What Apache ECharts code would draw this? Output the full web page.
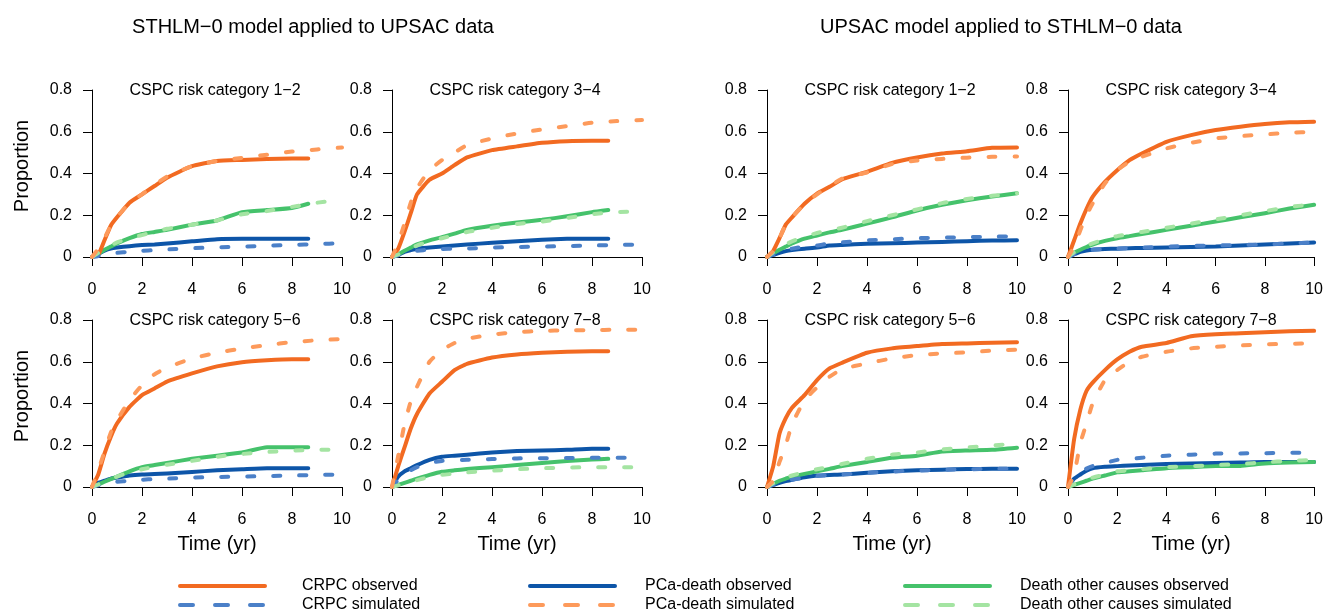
<!DOCTYPE html>
<html>
<head>
<meta charset="utf-8">
<title>CSPC risk category model validation</title>
<script src="https://cdn.jsdelivr.net/npm/echarts/dist/echarts.min.js"></script>
<style>
  html, body { margin: 0; padding: 0; background: #fff; }
  #main { width: 1326px; height: 612px; }
</style>
</head>
<body>
<div id="main"></div>
<script>
// time grids (years)
const T = [0, 0.25, 0.5, 0.75, 1, 1.5, 2, 2.5, 3, 4, 5, 6, 7, 8, 9, 10];
const T_OBS = [0, 0.25, 0.5, 0.75, 1, 1.5, 2, 2.5, 3, 4, 5, 6, 7, 8, 8.65]; // UPSAC follow-up is shorter

// STHLM-0 model applied to UPSAC data, category 1-2
const L12_crpcObs = [0, 0.01, 0.08, 0.15, 0.19, 0.26, 0.30, 0.34, 0.38, 0.435, 0.46, 0.465, 0.47, 0.472, 0.472];
const L12_crpcSim = [0, 0.04, 0.09, 0.15, 0.19, 0.26, 0.30, 0.345, 0.385, 0.435, 0.46, 0.475, 0.49, 0.505, 0.515, 0.525];
const L12_pcaObs = [0, 0.015, 0.03, 0.04, 0.045, 0.052, 0.057, 0.06, 0.065, 0.075, 0.085, 0.087, 0.087, 0.088, 0.088];
const L12_pcaSim = [0, 0.005, 0.012, 0.017, 0.02, 0.025, 0.03, 0.033, 0.036, 0.042, 0.046, 0.05, 0.054, 0.058, 0.062, 0.066];
const L12_othObs = [0, 0.015, 0.035, 0.05, 0.065, 0.09, 0.11, 0.12, 0.13, 0.155, 0.175, 0.215, 0.225, 0.235, 0.255];
const L12_othSim = [0, 0.02, 0.04, 0.055, 0.07, 0.09, 0.105, 0.12, 0.135, 0.155, 0.175, 0.205, 0.22, 0.24, 0.26, 0.275];

// category 3-4
const L34_crpcObs = [0, 0.04, 0.12, 0.21, 0.30, 0.37, 0.40, 0.44, 0.477, 0.512, 0.53, 0.547, 0.555, 0.557, 0.557];
const L34_crpcSim = [0, 0.07, 0.16, 0.26, 0.33, 0.416, 0.464, 0.50, 0.536, 0.568, 0.592, 0.611, 0.627, 0.643, 0.651, 0.656];
const L34_pcaObs = [0, 0.01, 0.025, 0.033, 0.04, 0.045, 0.05, 0.055, 0.06, 0.068, 0.075, 0.083, 0.087, 0.088, 0.088];
const L34_pcaSim = [0, 0.008, 0.018, 0.025, 0.03, 0.035, 0.038, 0.04, 0.041, 0.045, 0.048, 0.05, 0.052, 0.055, 0.058, 0.06];
const L34_othObs = [0, 0.012, 0.03, 0.045, 0.06, 0.08, 0.095, 0.112, 0.13, 0.15, 0.165, 0.178, 0.195, 0.215, 0.225];
const L34_othSim = [0, 0.012, 0.028, 0.042, 0.055, 0.075, 0.09, 0.105, 0.12, 0.14, 0.158, 0.17, 0.187, 0.205, 0.215, 0.218];

// category 5-6
const L56_crpcObs = [0, 0.06, 0.16, 0.24, 0.304, 0.384, 0.44, 0.472, 0.505, 0.544, 0.578, 0.598, 0.607, 0.612, 0.612];
const L56_crpcSim = [0, 0.08, 0.17, 0.26, 0.32, 0.416, 0.488, 0.54, 0.572, 0.616, 0.643, 0.664, 0.68, 0.694, 0.703, 0.709];
const L56_pcaObs = [0, 0.02, 0.03, 0.04, 0.045, 0.055, 0.06, 0.062, 0.065, 0.072, 0.08, 0.085, 0.09, 0.09, 0.09];
const L56_pcaSim = [0, 0.008, 0.015, 0.02, 0.025, 0.03, 0.035, 0.038, 0.04, 0.045, 0.048, 0.05, 0.052, 0.055, 0.058, 0.06];
const L56_othObs = [0, 0.012, 0.025, 0.038, 0.05, 0.075, 0.095, 0.105, 0.115, 0.135, 0.15, 0.165, 0.19, 0.19, 0.19];
const L56_othSim = [0, 0.012, 0.025, 0.038, 0.05, 0.07, 0.085, 0.097, 0.107, 0.125, 0.145, 0.158, 0.168, 0.174, 0.178, 0.18];

// category 7-8
const L78_crpcObs = [0, 0.1, 0.19, 0.28, 0.35, 0.448, 0.504, 0.56, 0.59, 0.62, 0.635, 0.643, 0.648, 0.65, 0.65];
const L78_crpcSim = [0, 0.15, 0.3, 0.41, 0.48, 0.6, 0.656, 0.69, 0.71, 0.73, 0.742, 0.748, 0.75, 0.752, 0.753, 0.753];
const L78_pcaObs = [0, 0.05, 0.075, 0.09, 0.105, 0.13, 0.145, 0.15, 0.155, 0.165, 0.172, 0.175, 0.178, 0.183, 0.183];
const L78_pcaSim = [0, 0.035, 0.06, 0.08, 0.095, 0.115, 0.125, 0.128, 0.13, 0.134, 0.137, 0.138, 0.139, 0.14, 0.14, 0.141];
const L78_othObs = [0, 0.01, 0.02, 0.03, 0.04, 0.058, 0.073, 0.08, 0.086, 0.095, 0.105, 0.115, 0.125, 0.132, 0.135];
const L78_othSim = [0, 0.008, 0.016, 0.025, 0.033, 0.048, 0.058, 0.064, 0.07, 0.078, 0.085, 0.09, 0.093, 0.095, 0.095, 0.095];

// UPSAC model applied to STHLM-0 data, category 1-2
const R12_crpcObs = [0, 0.03, 0.09, 0.155, 0.19, 0.255, 0.304, 0.336, 0.372, 0.408, 0.451, 0.477, 0.496, 0.507, 0.523, 0.525];
const R12_crpcSim = [0, 0.03, 0.09, 0.155, 0.19, 0.255, 0.30, 0.34, 0.375, 0.405, 0.445, 0.462, 0.47, 0.476, 0.48, 0.482];
const R12_pcaObs = [0, 0.01, 0.02, 0.028, 0.033, 0.04, 0.045, 0.055, 0.058, 0.063, 0.066, 0.069, 0.072, 0.076, 0.079, 0.08];
const R12_pcaSim = [0, 0.012, 0.025, 0.035, 0.04, 0.05, 0.055, 0.065, 0.07, 0.08, 0.085, 0.09, 0.093, 0.095, 0.097, 0.1];
const R12_othObs = [0, 0.018, 0.035, 0.05, 0.065, 0.088, 0.103, 0.118, 0.13, 0.16, 0.19, 0.223, 0.25, 0.272, 0.29, 0.305];
const R12_othSim = [0, 0.022, 0.042, 0.06, 0.075, 0.097, 0.115, 0.128, 0.14, 0.172, 0.2, 0.228, 0.258, 0.278, 0.293, 0.305];

// category 3-4
const R34_crpcObs = [0, 0.08, 0.16, 0.23, 0.288, 0.36, 0.416, 0.464, 0.496, 0.552, 0.584, 0.608, 0.624, 0.637, 0.645, 0.648];
const R34_crpcSim = [0, 0.05, 0.128, 0.2, 0.256, 0.352, 0.416, 0.456, 0.48, 0.52, 0.547, 0.568, 0.579, 0.587, 0.595, 0.6];
const R34_pcaObs = [0, 0.013, 0.025, 0.031, 0.035, 0.038, 0.04, 0.042, 0.043, 0.045, 0.048, 0.05, 0.055, 0.06, 0.065, 0.07];
const R34_pcaSim = [0, 0.013, 0.025, 0.031, 0.035, 0.038, 0.04, 0.043, 0.045, 0.05, 0.053, 0.055, 0.058, 0.06, 0.065, 0.07];
const R34_othObs = [0, 0.02, 0.035, 0.048, 0.06, 0.077, 0.09, 0.1, 0.11, 0.13, 0.15, 0.17, 0.19, 0.21, 0.232, 0.25];
const R34_othSim = [0, 0.022, 0.04, 0.054, 0.065, 0.085, 0.1, 0.11, 0.12, 0.14, 0.16, 0.18, 0.2, 0.22, 0.24, 0.252];

// category 5-6
const R56_crpcObs = [0, 0.1, 0.256, 0.33, 0.38, 0.44, 0.512, 0.568, 0.595, 0.643, 0.664, 0.675, 0.685, 0.688, 0.691, 0.694];
const R56_crpcSim = [0, 0.03, 0.12, 0.2, 0.3, 0.416, 0.477, 0.528, 0.565, 0.592, 0.616, 0.632, 0.64, 0.645, 0.653, 0.658];
const R56_pcaObs = [0, 0.01, 0.02, 0.028, 0.035, 0.047, 0.055, 0.058, 0.06, 0.068, 0.075, 0.08, 0.083, 0.086, 0.087, 0.088];
const R56_pcaSim = [0, 0.01, 0.02, 0.028, 0.035, 0.045, 0.052, 0.057, 0.06, 0.068, 0.074, 0.079, 0.082, 0.085, 0.087, 0.088];
const R56_othObs = [0, 0.015, 0.03, 0.04, 0.05, 0.063, 0.075, 0.087, 0.1, 0.12, 0.14, 0.15, 0.17, 0.175, 0.178, 0.188];
const R56_othSim = [0, 0.018, 0.035, 0.046, 0.055, 0.072, 0.085, 0.097, 0.11, 0.135, 0.155, 0.165, 0.18, 0.19, 0.198, 0.21];

// category 7-8
const R78_crpcObs = [0, 0.23, 0.37, 0.46, 0.5, 0.56, 0.611, 0.648, 0.672, 0.69, 0.722, 0.732, 0.736, 0.741, 0.746, 0.748];
const R78_crpcSim = [0, 0.06, 0.21, 0.304, 0.4, 0.512, 0.56, 0.6, 0.624, 0.648, 0.664, 0.672, 0.678, 0.683, 0.686, 0.688];
const R78_pcaObs = [0, 0.04, 0.06, 0.078, 0.09, 0.097, 0.1, 0.103, 0.105, 0.11, 0.113, 0.115, 0.117, 0.12, 0.12, 0.12];
const R78_pcaSim = [0, 0.045, 0.07, 0.088, 0.1, 0.115, 0.13, 0.135, 0.14, 0.15, 0.155, 0.16, 0.161, 0.162, 0.164, 0.165];
const R78_othObs = [0, 0.01, 0.02, 0.03, 0.04, 0.055, 0.07, 0.076, 0.08, 0.09, 0.095, 0.1, 0.101, 0.112, 0.117, 0.12];
const R78_othSim = [0, 0.012, 0.025, 0.035, 0.045, 0.06, 0.075, 0.08, 0.085, 0.095, 0.1, 0.105, 0.11, 0.118, 0.125, 0.13];

const FIG_TITLES = ["STHLM\u22120 model applied to UPSAC data", "UPSAC model applied to STHLM\u22120 data"];
const CATEGORIES = ["1\u22122", "3\u22124", "5\u22126", "7\u22128"];
const LEGEND_LABELS = [
  "CRPC observed", "PCa-death observed", "Death other causes observed",
  "CRPC simulated", "PCa-death simulated", "Death other causes simulated"
];

const FONT = '"Liberation Sans", Arial, Helvetica, sans-serif';
const C_CRPC_OBS = "#f26a21";
const C_CRPC_SIM = "#fd9a5b";
const C_PCA_OBS = "#0d55a8";
const C_PCA_SIM = "#4b80c8";
const C_OTH_OBS = "#45c26b";
const C_OTH_SIM = "#a4e4a2";

// panel layout: col left edges, row tops
const COL_LEFT = [92, 392, 767, 1068];
const ROW_TOP = [90, 320];
const PW = 250, PH = 167;

// each panel: [col, row, category index, obs time grid, series arrays]
const panels = [
  [0, 0, 0, T_OBS, L12_crpcObs, L12_crpcSim, L12_pcaObs, L12_pcaSim, L12_othObs, L12_othSim],
  [1, 0, 1, T_OBS, L34_crpcObs, L34_crpcSim, L34_pcaObs, L34_pcaSim, L34_othObs, L34_othSim],
  [2, 0, 0, T, R12_crpcObs, R12_crpcSim, R12_pcaObs, R12_pcaSim, R12_othObs, R12_othSim],
  [3, 0, 1, T, R34_crpcObs, R34_crpcSim, R34_pcaObs, R34_pcaSim, R34_othObs, R34_othSim],
  [0, 1, 2, T_OBS, L56_crpcObs, L56_crpcSim, L56_pcaObs, L56_pcaSim, L56_othObs, L56_othSim],
  [1, 1, 3, T_OBS, L78_crpcObs, L78_crpcSim, L78_pcaObs, L78_pcaSim, L78_othObs, L78_othSim],
  [2, 1, 2, T, R56_crpcObs, R56_crpcSim, R56_pcaObs, R56_pcaSim, R56_othObs, R56_othSim],
  [3, 1, 3, T, R78_crpcObs, R78_crpcSim, R78_pcaObs, R78_pcaSim, R78_othObs, R78_othSim]
];

function pairs(ts, vals) {
  return vals.map((v, k) => [ts[k], v]);
}

function lineSeries(idx, data, color, dashed) {
  return {
    type: "line",
    xAxisIndex: idx,
    yAxisIndex: idx,
    data: data,
    symbol: "none",
    silent: true,
    smooth: 0.15,
    lineStyle: {
      color: color,
      width: 4,
      type: dashed ? [7, 19] : "solid",
      cap: "round",
      join: "round"
    },
    z: dashed ? 3 : 2
  };
}

const grids = [], xAxes = [], yAxes = [], series = [], graphics = [];

panels.forEach((p, i) => {
  const col = p[0], row = p[1], cat = p[2], tObs = p[3];
  const left = COL_LEFT[col], top = ROW_TOP[row];
  grids.push({ left: left, top: top, width: PW, height: PH });
  xAxes.push({
    gridIndex: i, type: "value", min: 0, max: 10, interval: 2,
    name: row === 1 ? "Time (yr)" : "",
    nameLocation: "middle", nameGap: 47,
    nameTextStyle: { fontFamily: FONT, fontSize: 20, color: "#000" },
    axisLine: { show: true, onZero: false, lineStyle: { color: "#000", width: 1 } },
    axisTick: { show: true, length: 9, lineStyle: { color: "#000" } },
    axisLabel: { fontFamily: FONT, fontSize: 16, color: "#000", margin: 25 },
    splitLine: { show: false }
  });
  yAxes.push({
    gridIndex: i, type: "value", min: 0, max: 0.8, interval: 0.2,
    axisLine: { show: true, lineStyle: { color: "#000", width: 1 } },
    axisTick: { show: true, length: 9, lineStyle: { color: "#000" } },
    axisLabel: { fontFamily: FONT, fontSize: 16, color: "#000", margin: 20 },
    splitLine: { show: false }
  });
  // draw order: PCa-death, other causes, then CRPC on top
  series.push(lineSeries(i, pairs(tObs, p[6]), C_PCA_OBS, false));
  series.push(lineSeries(i, pairs(T, p[7]), C_PCA_SIM, true));
  series.push(lineSeries(i, pairs(tObs, p[8]), C_OTH_OBS, false));
  series.push(lineSeries(i, pairs(T, p[9]), C_OTH_SIM, true));
  series.push(lineSeries(i, pairs(tObs, p[4]), C_CRPC_OBS, false));
  series.push(lineSeries(i, pairs(T, p[5]), C_CRPC_SIM, true));

  // panel title
  graphics.push({
    type: "text", x: left + PW / 2 - 2, y: top + 1,
    style: {
      text: "CSPC risk category " + CATEGORIES[cat],
      font: "16px " + FONT, fill: "#000",
      textAlign: "center", textVerticalAlign: "middle"
    }
  });
  // y axis title on the leftmost column only
  if (col === 0) {
    graphics.push({
      type: "text", x: 22, y: top + 76, rotation: Math.PI / 2,
      style: {
        text: "Proportion", font: "20px " + FONT, fill: "#000",
        textAlign: "center", textVerticalAlign: "middle"
      }
    });
  }
});

// figure titles
graphics.push({
  type: "text", x: 313, y: 27,
  style: { text: FIG_TITLES[0], font: "20px " + FONT, fill: "#000", textAlign: "center", textVerticalAlign: "middle" }
});
graphics.push({
  type: "text", x: 1001, y: 27,
  style: { text: FIG_TITLES[1], font: "20px " + FONT, fill: "#000", textAlign: "center", textVerticalAlign: "middle" }
});

// legend (labels kept exactly as in the figure)
const legColors = [C_CRPC_OBS, C_PCA_OBS, C_OTH_OBS, C_PCA_SIM, C_CRPC_SIM, C_OTH_SIM];
const legLineX = [180, 530, 905];
const legTextX = [302, 645, 1020];
const legY = [586, 605];
LEGEND_LABELS.forEach((lab, k) => {
  const c = k % 3, r = Math.floor(k / 3);
  graphics.push({
    type: "line",
    shape: { x1: legLineX[c], y1: legY[r], x2: legLineX[c] + 85, y2: legY[r] },
    style: {
      stroke: legColors[k], lineWidth: 4, lineCap: "round",
      lineDash: r === 1 ? [13, 22] : null
    }
  });
  graphics.push({
    type: "text", x: legTextX[c], y: legY[r],
    style: { text: lab, font: "16px " + FONT, fill: "#000", textAlign: "left", textVerticalAlign: "middle" }
  });
});

const myChart = echarts.init(document.getElementById("main"));
myChart.setOption({
  animation: false,
  backgroundColor: "#fff",
  grid: grids,
  xAxis: xAxes,
  yAxis: yAxes,
  series: series,
  graphic: graphics
});
</script>
</body>
</html>
